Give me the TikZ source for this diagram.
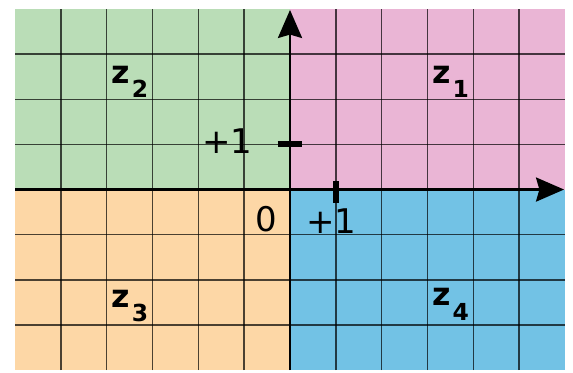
\documentclass[tikz,border=0pt]{standalone}
\usepackage{fontspec}
\setmainfont{DejaVu Sans}
\usetikzlibrary{arrows.meta}
\definecolor{qgreen}{RGB}{186,221,183}
\definecolor{qpink}{RGB}{234,181,213}
\definecolor{qorange}{RGB}{253,215,166}
\definecolor{qblue}{RGB}{114,194,229}
\tikzset{
  gridline/.style={line width=1.3pt, black, opacity=0.7},
  axisline/.style={line width=2.4pt, black, -{Stealth[length=0.84cm,width=0.72cm,inset=0.1cm]}},
  tickmark/.style={line width=5pt, black},
  numlabel/.style={inner sep=0pt, anchor=base, font=\fontsize{29}{33}\selectfont},
  zlabel/.style={inner sep=0pt, anchor=base west, font=\fontsize{27}{31}\selectfont\bfseries}
}
\newcommand{\zsub}[1]{z\kern0.06em\raisebox{-0.45em}{\fontsize{20}{23}\selectfont #1}}
\begin{document}
\begin{tikzpicture}[x=1.375cm,y=1.354cm]
\useasboundingbox (-6.328,-4.044) rectangle (6.175,4.2);
\fill[qgreen] (-6,0) rectangle (0,4);
\fill[qpink] (0,0) rectangle (6,4);
\fill[qorange] (-6,-4) rectangle (0,0);
\fill[qblue] (0,-4) rectangle (6,0);
\foreach \i in {-5,...,-1,1,2,...,5} \draw[gridline] (\i,-4) -- (\i,4);
\foreach \j in {-3,...,-1,1,2,3} \draw[gridline] (-6,\j) -- (6,\j);
\coordinate (xs) at (-6,0);
\coordinate (xe) at (5.98,0);
\coordinate (ys) at (0,-4);
\coordinate (ye) at (0,3.98);
\draw[axisline] (xs) -- (xe);
\draw[axisline] (ys) -- (ye);
\coordinate (ty1) at (-0.27,1);
\coordinate (ty2) at (0.26,1);
\coordinate (tx1) at (1,0.18);
\coordinate (tx2) at (1,-0.30);
\draw[tickmark] (ty1) -- (ty2);
\draw[tickmark] (tx1) -- (tx2);
\node[numlabel] (ly) at (-1.37,0.809) {+1};
\node[numlabel] (lo) at (-0.513,-0.94) {0};
\node[numlabel] (lx) at (0.906,-0.964) {+1};
\node[zlabel] (z2) at (-3.9,2.36) {\zsub{2}};
\node[zlabel] (z1) at (3.1,2.36) {\zsub{1}};
\node[zlabel] (z3) at (-3.9,-2.61) {\zsub{3}};
\node[zlabel] (z4) at (3.1,-2.58) {\zsub{4}};
\end{tikzpicture}
\end{document}
